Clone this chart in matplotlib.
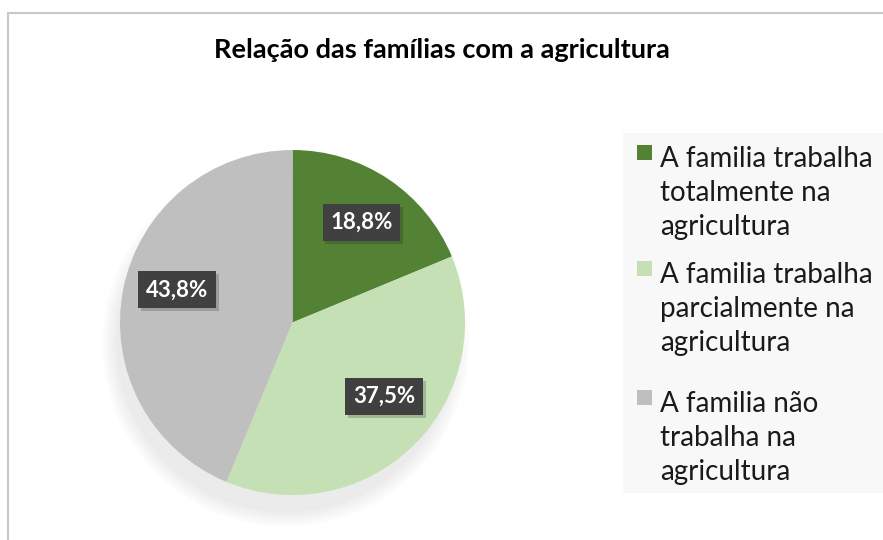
import matplotlib.pyplot as plt
import matplotlib.patheffects as pe
from matplotlib.patches import Rectangle, Circle

plt.rcParams['font.family'] = ['Lato', 'DejaVu Sans']

# data
labels = ['A familia trabalha\ntotalmente na\nagricultura',
          'A familia trabalha\nparcialmente na\nagricultura',
          'A familia não\ntrabalha na\nagricultura']
values = [3, 6, 7]
colors = ['#548235', '#C5E0B4', '#BFBFBF']
title = 'Relação das famílias com a agricultura'

W, H = 883, 540
fig = plt.figure(figsize=(W / 100, H / 100), dpi=100)


def fx(x):
    return x / W


def fy(y):
    return 1 - y / H


# chart border (top and left edges visible)
fig.patches.append(Rectangle((fx(8), -0.1), 1.2, fy(13) + 0.1,
                             transform=fig.transFigure, fill=False,
                             edgecolor='#C8C8C8', linewidth=1.5))

# pie with a soft shadow underneath
ax = fig.add_axes([fx(120), fy(495), fx(345), 345 / H])
for i in range(10):
    ax.add_patch(Circle((-0.04, -0.12), 0.97 + 0.01 * i, color='black',
                        alpha=0.009, clip_on=False, zorder=0))
wedges, _ = ax.pie(values, colors=colors, startangle=90, counterclock=False,
                   wedgeprops=dict(linewidth=0, zorder=2))
ax.set_xlim(-1, 1)
ax.set_ylim(-1, 1)
ax.set_aspect('equal')

# percentage labels in dark boxes
total = sum(values)
label_pos = [(0.40, 0.58), (0.53, -0.43), (-0.67, 0.19)]
for v, (x, y) in zip(values, label_pos):
    t = ax.text(x, y, f'{100 * v / total:.1f}%'.replace('.', ','),
                ha='center', va='center', color='white', fontsize=16,
                fontweight='bold', zorder=4,
                bbox=dict(boxstyle='square,pad=0.35', facecolor='#404040',
                          edgecolor='none'))
    t.get_bbox_patch().set_path_effects(
        [pe.SimplePatchShadow(offset=(2, -2), alpha=0.2), pe.Normal()])

fig.text(0.5, fy(58), title, ha='center', va='baseline',
         fontsize=19.5, fontweight='bold', color='black')

# legend drawn by hand so the marker sits on the first line
fig.patches.append(Rectangle((fx(623), fy(493)), fx(260), 360 / H,
                             transform=fig.transFigure,
                             facecolor='#F8F8F8', edgecolor='none'))
first_baselines = [167, 283, 412]
line_step = 34
for lab, col, b in zip(labels, colors, first_baselines):
    fig.patches.append(Rectangle((fx(637), fy(b - 7)), fx(15), 15 / H,
                                 transform=fig.transFigure,
                                 facecolor=col, edgecolor='none'))
    for j, line in enumerate(lab.split('\n')):
        fig.text(fx(660), fy(b + j * line_step), line, ha='left',
                 va='baseline', fontsize=20, color='#1a1a1a')

fig.savefig('out.png', dpi=100, facecolor='white')
